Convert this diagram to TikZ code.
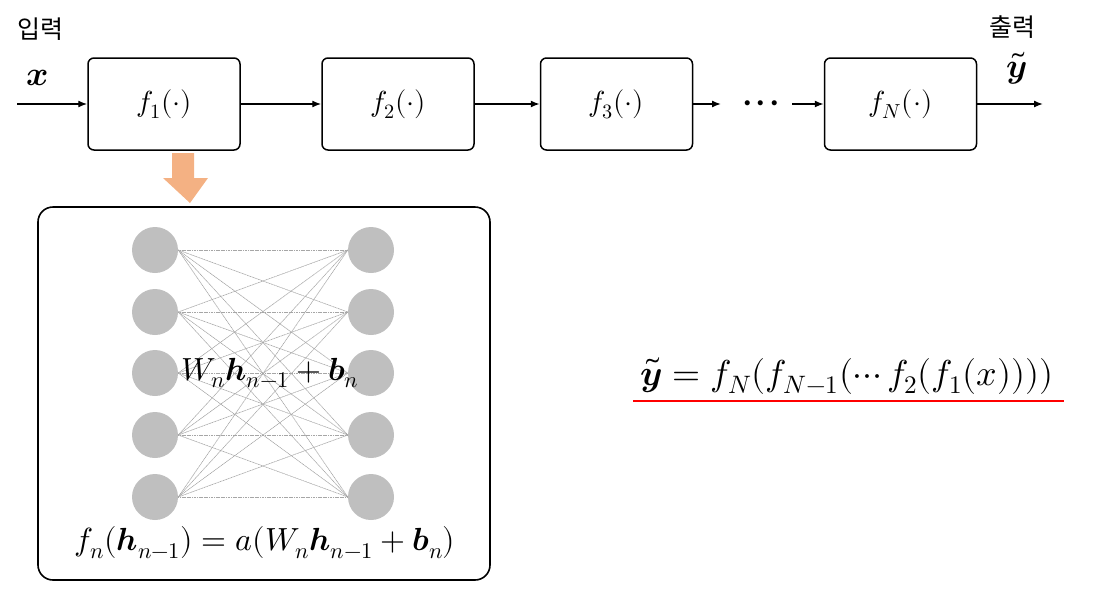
\documentclass[tikz,border=0pt]{standalone}
\usepackage{amsmath}
\usepackage{fontspec}
\usepackage{unicode-math}
\setmathfont{Latin Modern Math}
\newfontfamily\kr{Noto Sans CJK KR}
\usetikzlibrary{arrows.meta}
\definecolor{nodegray}{HTML}{BFBFBF}
\definecolor{orangearr}{HTML}{F4B183}
\tikzset{
  fbox/.style={draw, line width=1.5pt, rounded corners=6pt, minimum width=152pt, minimum height=92pt, inner sep=0pt, font=\fontsize{29}{32}\selectfont},
  conn/.style={line width=1.4pt, -{Latex[length=9pt,width=7pt]}},
  neuron/.style={circle, fill=nodegray, minimum size=46pt, inner sep=0pt},
  wire/.style={gray!70, line width=0.6pt, dash pattern=on 1.2pt off 0.5pt},
  lbl/.style={inner sep=0pt, font=\kr\fontsize{25}{28}\selectfont},
  mlbl/.style={inner sep=0pt, font=\fontsize{34}{38}\selectfont},
}
\begin{document}
\begin{tikzpicture}[x=1pt,y=-1pt]
\useasboundingbox (0,0) rectangle (1096,590);
% top chain
\node[fbox] (f1) at (164,104) {$f_1(\cdot)$};
\node[fbox] (f2) at (398,104) {$f_2(\cdot)$};
\node[fbox] (f3) at (616.5,104) {$f_3(\cdot)$};
\node[fbox] (fN) at (900.5,104) {$f_N(\cdot)$};
\node[inner sep=0pt, font=\fontsize{13}{15}\selectfont] (dots) at (761,104) {${\bullet}\mkern10mu{\bullet}\mkern10mu{\bullet}$};
\coordinate (in) at (17,104);
\coordinate (f3out) at (721,104);
\coordinate (dotsout) at (792,104);
\coordinate (out) at (1043,104);
\draw[conn] (in) -- (f1);
\draw[conn] (f1) -- (f2);
\draw[conn] (f2) -- (f3);
\draw[conn] (f3) -- (f3out);
\draw[conn] (dotsout) -- (fN);
\draw[conn] (fN) -- (out);
\node[lbl] (inlbl) at (40,29) {입력};
\node[lbl] (outlbl) at (1012,27) {출력};
\node[mlbl] (xlbl) at (38,78) {$\symbfit{x}$};
\node[mlbl] (ylbl) at (1017,68) {$\widetilde{\symbfit{y}}$};
% orange arrow
\fill[orangearr] (172,153) -- (194,153) -- (194,178) -- (208,178) -- (190,203) -- (163,178) -- (172,178) -- cycle;
% big box
\draw[line width=1.6pt, rounded corners=15pt] (38,207) rectangle (490,580);
% network
\foreach \i/\y in {1/250,2/312,3/373,4/435,5/497} {
  \node[neuron] (l\i) at (155,\y) {};
  \node[neuron] (r\i) at (371,\y) {};
}
\foreach \i in {1,...,5} {
  \foreach \j in {1,...,5} {
    \draw[wire] (l\i.east) -- (r\j.west);
  }
}
\node[inner sep=0pt, font=\fontsize{32}{36}\selectfont] (lin) at (270,373) {$W_n\symbfit{h}_{n-1}+\symbfit{b}_n$};
\node[inner sep=0pt, font=\fontsize{32}{36}\selectfont] (fn) at (265,543) {$f_n(\symbfit{h}_{n-1})=a(W_n\symbfit{h}_{n-1}+\symbfit{b}_n)$};
% right formula
\node[inner sep=0pt, font=\fontsize{36}{40}\selectfont] (eq) at (847,376) {$\widetilde{\symbfit{y}}=f_N(f_{N-1}(\cdots f_2(f_1(x))))$};
\coordinate (ulA) at (633,401);
\coordinate (ulB) at (1064,401);
\draw[red, line width=1.3pt] (ulA) -- (ulB);
\end{tikzpicture}
\end{document}
